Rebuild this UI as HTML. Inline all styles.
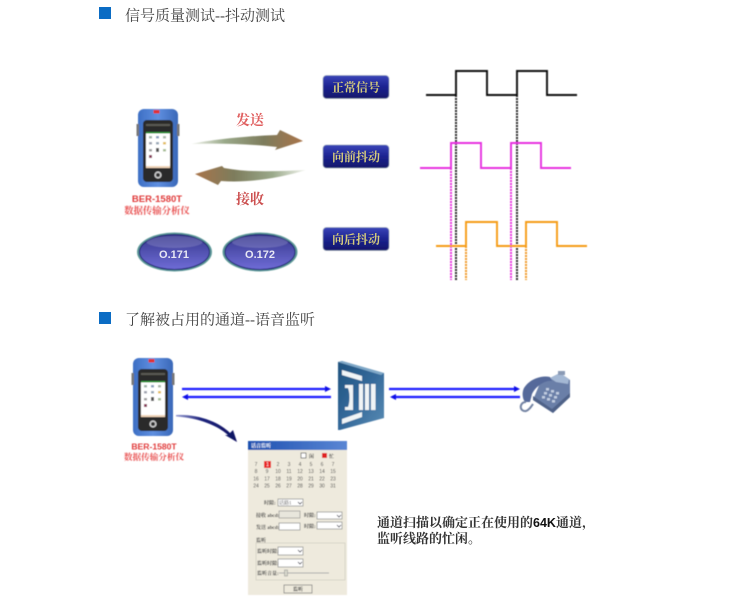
<!DOCTYPE html>
<html lang="zh">
<head>
<meta charset="utf-8">
<style>
html,body{margin:0;padding:0;background:#fff;width:750px;height:601px;overflow:hidden}
svg{display:block}
.s{font-family:"Liberation Serif","Noto Serif CJK SC",serif}
.b{font-family:"Liberation Sans","Noto Sans CJK SC",sans-serif;font-weight:700}
</style>
</head>
<body>
<svg width="750" height="601" viewBox="0 0 750 601" xmlns="http://www.w3.org/2000/svg">
<defs>
<filter id="bl" x="-10%" y="-10%" width="120%" height="120%"><feGaussianBlur stdDeviation="0.4"/></filter>
<filter id="bl2" x="-5%" y="-5%" width="110%" height="110%"><feGaussianBlur stdDeviation="0.6"/></filter>
<linearGradient id="ar1" x1="0" x2="1" y1="0" y2="0"><stop offset="0" stop-color="#f4f6f0"/><stop offset=".3" stop-color="#9aa98a"/><stop offset=".65" stop-color="#7d7c5c"/><stop offset="1" stop-color="#a9744a"/></linearGradient>
<linearGradient id="ar2" x1="1" x2="0" y1="0" y2="0"><stop offset="0" stop-color="#f4f6f0"/><stop offset=".3" stop-color="#9aa98a"/><stop offset=".65" stop-color="#7d7c5c"/><stop offset="1" stop-color="#a9744a"/></linearGradient>
<linearGradient id="btn" x1="0" x2="0" y1="0" y2="1"><stop offset="0" stop-color="#3a44b8"/><stop offset=".5" stop-color="#1c2390"/><stop offset="1" stop-color="#10166a"/></linearGradient>
<linearGradient id="ov" x1="0" x2="0" y1="0" y2="1"><stop offset="0" stop-color="#34348c"/><stop offset=".45" stop-color="#5050ae"/><stop offset="1" stop-color="#6f6cd6"/></linearGradient>
<linearGradient id="dev" x1="0" x2="1" y1="0" y2="0"><stop offset="0" stop-color="#3d6fc4"/><stop offset=".5" stop-color="#5f8fe0"/><stop offset="1" stop-color="#3a68b8"/></linearGradient>
<linearGradient id="sw" x1="0" x2="1" y1="0" y2="1"><stop offset="0" stop-color="#1f527e"/><stop offset=".5" stop-color="#34699a"/><stop offset="1" stop-color="#5a8cb4"/></linearGradient>
<linearGradient id="tb" x1="0" x2="1" y1="0" y2="0"><stop offset="0" stop-color="#1e50b0"/><stop offset="1" stop-color="#5a86d4"/></linearGradient>
<linearGradient id="cv" x1="0" x2="1" y1="0" y2="0"><stop offset="0" stop-color="#9a9fd4"/><stop offset=".4" stop-color="#20267e"/><stop offset="1" stop-color="#0c1060"/></linearGradient>
<g id="device">
<rect x="0" y="0" width="40" height="78" rx="6" fill="url(#dev)"/>
<rect x="-1.500" y="15" width="2.500" height="12" fill="#777"/>
<rect x="39" y="15" width="2.500" height="12" fill="#777"/>
<rect x="15.500" y="1" width="6" height="3.500" fill="#e03030"/>
<rect x="5" y="11" width="30" height="62" rx="4" fill="#2a2a2c"/>
<rect x="8" y="15" width="24" height="2" fill="#5a5a52"/>
<rect x="8" y="23" width="24" height="36" fill="#fff"/>
<rect x="8" y="23" width="24" height="1.500" fill="#2f9a3a"/>
<rect x="11" y="27" width="3" height="2.500" fill="#a0b4a8"/><rect x="18" y="27" width="3" height="2.500" fill="#8aa0c0"/><rect x="25" y="27" width="3" height="2.500" fill="#aab8aa"/>
<rect x="11" y="33" width="3" height="2.500" fill="#a0a4b0"/><rect x="18" y="33" width="3" height="2.500" fill="#9aa8b8"/><rect x="25" y="33" width="3" height="2.500" fill="#e4c060"/>
<rect x="11" y="40" width="3" height="2.500" fill="#a0a0a0"/><rect x="18" y="39" width="3" height="4" fill="#555"/><rect x="25" y="40" width="3" height="2.500" fill="#a8c098"/>
<rect x="11" y="46" width="3" height="3" fill="#8a3a5a"/>
<rect x="8" y="57" width="24" height="2" fill="#f0d4b8"/>
<circle cx="20" cy="66" r="3.600" fill="#ccc"/><circle cx="20" cy="66" r="2" fill="#333"/>
</g>
<g id="bt"><rect x="0" y="0" width="66" height="23" rx="3.500" fill="url(#btn)" stroke="#9aa" stroke-opacity=".4"/></g>
</defs>

<!-- Section 1 header -->
<rect x="99" y="7" width="12" height="12" fill="#0b6cc4"/>
<text x="125" y="20.500" class="s" font-size="15" fill="#444">信号质量测试--抖动测试</text>

<g filter="url(#bl)">
<use href="#device" x="138" y="109"/>
</g>
<text x="157" y="202" class="b" font-size="9.500" fill="#e03a3a" text-anchor="middle" filter="url(#bl)">BER-1580T</text>
<text x="157" y="214" class="s" font-size="9.400" font-weight="700" fill="#e85050" text-anchor="middle" filter="url(#bl)">数据传输分析仪</text>

<text x="250" y="125" class="s" font-size="14" font-weight="700" fill="#e06060" text-anchor="middle">发送</text>
<text x="250" y="204" class="s" font-size="14" font-weight="700" fill="#cc5050" text-anchor="middle">接收</text>

<g filter="url(#bl)">
<path d="M191 144 C215 139 250 136 277 135 L280 130 L303 141 L275 150 L277 147 C250 144 220 143 191 144 Z" fill="url(#ar1)"/>
<path d="M306 170 C280 171 250 173 224 168 L222 166 L195 174 L218 185 L221 181 C250 183 280 178 306 170 Z" fill="url(#ar2)"/>
</g>

<!-- Ovals -->
<g filter="url(#bl)">
<ellipse cx="174.500" cy="252" rx="37.500" ry="19.500" fill="#5a9696"/>
<ellipse cx="174.500" cy="252" rx="35" ry="17.500" fill="url(#ov)" stroke="#1d1f70" stroke-width="1"/>
<ellipse cx="174.500" cy="242" rx="28" ry="6" fill="#fff" fill-opacity=".16"/>
<ellipse cx="260" cy="252" rx="37.500" ry="19.500" fill="#5a9696"/>
<ellipse cx="260" cy="252" rx="35" ry="17.500" fill="url(#ov)" stroke="#1d1f70" stroke-width="1"/>
<ellipse cx="260" cy="242" rx="28" ry="6" fill="#fff" fill-opacity=".16"/>
</g>
<text x="174" y="258" class="b" font-size="11" fill="#e8e8f4" text-anchor="middle">O.171</text>
<text x="260" y="258" class="b" font-size="11" fill="#e8e8f4" text-anchor="middle">O.172</text>

<!-- Label buttons -->
<g filter="url(#bl)">
<use href="#bt" x="323" y="75.500"/>
<use href="#bt" x="323" y="145"/>
<use href="#bt" x="323" y="227.500"/>
</g>
<g class="s" font-size="12" font-weight="700" fill="#d6cc7c" text-anchor="middle">
<text x="356" y="91.500">正常信号</text>
<text x="356" y="161">向前抖动</text>
<text x="356" y="243.500">向后抖动</text>
</g>

<!-- Signals -->
<g fill="none" filter="url(#bl)">
<path d="M451 168V280M511 168V280" stroke="#e830e0" stroke-width="2" stroke-dasharray="2 1"/>
<path d="M466 246V280M526 246V280" stroke="#f09820" stroke-width="2" stroke-dasharray="2 1"/>
<path d="M456 95V280M517 95V280" stroke="#222" stroke-width="2" stroke-dasharray="2 1"/>
<path d="M426 95H456V71H487V95H517V71H547V95H577" stroke="#111" stroke-width="1.900"/>
<path d="M420 168H451V143H481V168H511V143H541V168H571" stroke="#e630e0" stroke-width="1.900"/>
<path d="M436 246H466V222H497V246H526V222H557V246H587" stroke="#f59c18" stroke-width="1.900"/>
</g>

<!-- Section 2 header -->
<rect x="99" y="312" width="12" height="12" fill="#0b6cc4"/>
<text x="125" y="324.500" class="s" font-size="15" fill="#444">了解被占用的通道--语音监听</text>

<g filter="url(#bl)">
<use href="#device" x="133" y="358"/>
</g>
<text x="154" y="449.500" class="b" font-size="8.600" fill="#e03a3a" text-anchor="middle" filter="url(#bl)">BER-1580T</text>
<text x="154" y="460" class="s" font-size="8.600" font-weight="700" fill="#e85050" text-anchor="middle" filter="url(#bl)">数据传输分析仪</text>

<!-- Blue lines -->
<g filter="url(#bl)" stroke="#1c1cff" stroke-width="2.200" fill="#1010e8">
<path d="M182 389H325" fill="none"/><path d="M331 389L325 386V392Z" stroke="none"/>
<path d="M188 397H331" fill="none"/><path d="M182 397L188 394V400Z" stroke="none"/>
<path d="M389 389H514" fill="none"/><path d="M520 389L514 386V392Z" stroke="none"/>
<path d="M396 397H520" fill="none"/><path d="M390 397L396 394V400Z" stroke="none"/>
</g>

<!-- Curved arrow -->
<g filter="url(#bl)">
<path d="M176 415 C200 414 220 423 230 433 L233 430 L237 442 L225 435 L228 435 C218 426 200 418 176 416.500 Z" fill="url(#cv)"/>
</g>

<!-- Switch icon -->
<g filter="url(#bl)">
<path d="M338 362 L342 361 L384 373 L384 418 L340 430 L338 430 Z" fill="url(#sw)"/>
<path d="M338 362 L342 361 L384 373 L381 375 Z" fill="#7fa8c8"/>
<path d="M342 370 L362 376 V381 L342 375 Z" fill="#f0f4f6"/>
<path d="M342 424 L362 417 V412 L342 419 Z" fill="#f0f4f6"/>
<path d="M345 385 h8 v25 h-8 v-3 h3 c2 -5 2 -14 0 -19 h-3 Z" fill="#f0f4f6"/>
<rect x="359" y="384" width="4" height="26" fill="#f0f4f6"/>
<rect x="365" y="384" width="4" height="26" fill="#f0f4f6"/>
<rect x="371" y="384" width="4.500" height="26" fill="#f0f4f6"/>
</g>

<!-- Phone -->
<g filter="url(#bl)">
<path d="M540 383 L560 373 L570 380 L570 397 L553 413 L533 400 Z" fill="#6a7fa8"/>
<path d="M553 413 L570 397 L570 393 L552 409 L533 396 L533 400 Z" fill="#4f6288"/>
<path d="M550 378 L560 373 L569 379 L568 384 L556 382 Z" fill="#a4b8d4"/>
<rect x="558" y="371" width="7" height="4" fill="#8a9ab5"/>
<path d="M524 388 C529 380 540 375 550 377 L552 381 C545 380 536 386 532 394 L530 402 L525 402 C522 398 522 392 524 388 Z" fill="#55699a"/>
<path d="M526 402 C519 402 519 412 526 411 C529 410 531 407 533 404" fill="none" stroke="#7383a3" stroke-width="2"/>
<g fill="#c0cce0">
<rect x="546" y="388" width="3" height="2.500"/><rect x="551" y="390" width="3" height="2.500"/><rect x="556" y="392" width="3" height="2.500"/>
<rect x="544" y="392" width="3" height="2.500"/><rect x="549" y="394" width="3" height="2.500"/><rect x="554" y="396" width="3" height="2.500"/>
<rect x="542" y="396" width="3" height="2.500"/><rect x="547" y="398" width="3" height="2.500"/><rect x="552" y="400" width="3" height="2.500"/>
</g>
</g>

<!-- Dialog -->
<g filter="url(#bl2)">
<rect x="248" y="441" width="99" height="154" fill="#eeeadd"/>
<rect x="248" y="441" width="99" height="9" fill="url(#tb)"/>
<rect x="301" y="453" width="5" height="5" fill="#fff" stroke="#555" stroke-width=".7"/>
<rect x="322" y="453" width="5" height="5" fill="#e02020"/>
<rect x="264" y="461" width="7" height="7" fill="#e82828"/>
<rect x="278" y="499" width="25" height="7" fill="#fff" stroke="#777" stroke-width=".6"/>
<rect x="279" y="511" width="21" height="7" fill="#e8e6dc" stroke="#888" stroke-width=".6"/>
<rect x="279" y="523" width="21" height="7" fill="#fff" stroke="#777" stroke-width=".6"/>
<rect x="317" y="512" width="25" height="7" fill="#fff" stroke="#777" stroke-width=".6"/>
<rect x="317" y="522" width="25" height="7" fill="#fff" stroke="#777" stroke-width=".6"/>
<rect x="256" y="543" width="89" height="37" fill="none" stroke="#d0ccc0" stroke-width=".7"/>
<rect x="278" y="547" width="25" height="8" fill="#fff" stroke="#777" stroke-width=".6"/>
<rect x="278" y="559" width="25" height="8" fill="#fff" stroke="#777" stroke-width=".6"/>
<path d="M279 573H329" stroke="#aaa" stroke-width="1"/>
<rect x="284.500" y="570" width="3" height="6" fill="#d8d8cc" stroke="#888" stroke-width=".5"/>
<rect x="284" y="585" width="28" height="8" fill="#eeeadd" stroke="#777" stroke-width=".7"/>
<path d="M298 502l2 2 2-2M337 515l2 2 2-2M337 525l2 2 2-2M298 550l2 2 2-2M298 562l2 2 2-2" fill="none" stroke="#334" stroke-width=".8"/>
<g font-family="'Liberation Sans',sans-serif" font-size="5" fill="#444" text-anchor="middle">
<text x="256" y="466">7</text><text x="267.500" y="466" fill="#fff">1</text><text x="278" y="466">2</text><text x="289" y="466">3</text><text x="300" y="466">4</text><text x="311" y="466">5</text><text x="322" y="466">6</text><text x="333" y="466">7</text>
<text x="256" y="473">8</text><text x="267" y="473">9</text><text x="278" y="473">10</text><text x="289" y="473">11</text><text x="300" y="473">12</text><text x="311" y="473">13</text><text x="322" y="473">14</text><text x="333" y="473">15</text>
<text x="256" y="480.500">16</text><text x="267" y="480.500">17</text><text x="278" y="480.500">18</text><text x="289" y="480.500">19</text><text x="300" y="480.500">20</text><text x="311" y="480.500">21</text><text x="322" y="480.500">22</text><text x="333" y="480.500">23</text>
<text x="256" y="487.500">24</text><text x="267" y="487.500">25</text><text x="278" y="487.500">26</text><text x="289" y="487.500">27</text><text x="300" y="487.500">28</text><text x="311" y="487.500">29</text><text x="322" y="487.500">30</text><text x="333" y="487.500">31</text>
</g>
<g class="s" font-size="5" font-weight="700" fill="#444">
<text x="251" y="447.500" fill="#fff">话音监听</text>
<text x="309" y="458">闲</text><text x="329" y="458">忙</text>
<text x="264" y="504.500">时隙:</text>
<text x="256" y="517">接收 abcd:</text><text x="256" y="529">发送 abcd:</text>
<text x="304" y="517">时隙:</text><text x="304" y="528">时隙:</text>
<text x="256" y="542">监听</text>
<text x="257" y="553">监听时隙:</text><text x="257" y="565">监听时隙:</text><text x="257" y="575">监听音量:</text>
<text x="293" y="591">监听</text>
<text x="279" y="504.500" font-weight="400">话路1</text>
</g>
</g>

<!-- Caption -->
<svg x="370" y="510" width="220" height="40" viewBox="370 510 220 40">
<text x="377" y="527" class="s" font-size="13" font-weight="700" fill="#333">通道扫描以确定正在使用的<tspan class="b" font-size="12.500" fill="#111">64K</tspan>通道，</text>
<text x="377" y="543" class="s" font-size="13" font-weight="700" fill="#333">监听线路的忙闲。</text>
</svg>
</svg>
</body>
</html>
